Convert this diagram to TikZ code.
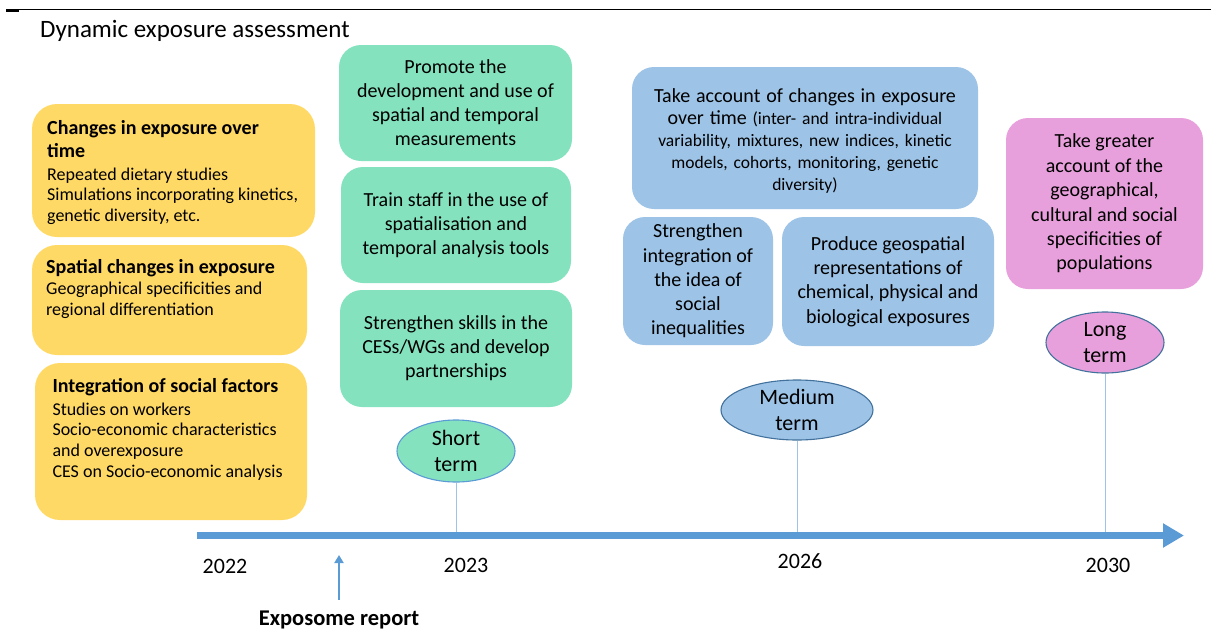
\documentclass[tikz,border=0pt]{standalone}
\usepackage{fontspec}
\setmainfont{Carlito}
\usetikzlibrary{shapes.geometric,arrows.meta}
\definecolor{yel}{HTML}{FFD966}
\definecolor{grn}{HTML}{85E2BF}
\definecolor{blu}{HTML}{9DC3E6}
\definecolor{pnk}{HTML}{E8A0DC}
\definecolor{axisblue}{HTML}{5B9BD5}
\definecolor{edgeA}{HTML}{5B9BD5}
\definecolor{edgeB}{HTML}{41719C}
\definecolor{ticklinec}{HTML}{9DC3E6}
\begin{document}
\begin{tikzpicture}[x=1pt,y=-1pt,
  panel/.style={rectangle,draw=none,inner sep=0pt,rounded corners=22pt},
  ybox/.style={panel,fill=yel,rounded corners=25pt},
  gbox/.style={panel,fill=grn,align=center,font=\fontsize{20}{24}\selectfont},
  bbox/.style={panel,fill=blu,align=center,font=\fontsize{20}{24.2}\selectfont},
  pbox/.style={panel,fill=pnk,align=center,font=\fontsize{20}{24.4}\selectfont},
  yhead/.style={anchor=north west,inner sep=0pt,align=left,font=\fontsize{20}{23}\selectfont\bfseries},
  ytext/.style={anchor=north west,inner sep=0pt,align=left,font=\fontsize{18}{20.8}\selectfont},
  term/.style={ellipse,inner sep=0pt,line width=1.1pt,align=center,font=\fontsize{22}{26.5}\selectfont},
  yearlabel/.style={inner sep=0pt,font=\fontsize{22}{26}\selectfont},
  tickline/.style={draw=ticklinec,line width=1pt},
  axisline/.style={draw=axisblue,line width=7pt,-{Triangle[length=21pt,width=23pt]}},
]
\useasboundingbox (0,0) rectangle (1211,630);

% top rule
\coordinate (r0) at (6,9.5);
\coordinate (r1) at (1211,9.5);
\coordinate (s0) at (6,10.5);
\coordinate (s1) at (19,10.5);
\draw[line width=1pt] (r0) -- (r1);
\draw[line width=2pt] (s0) -- (s1);

\node[anchor=base west,inner sep=0pt,font=\fontsize{25}{29}\selectfont] (title) at (40,37.7) {Dynamic exposure assessment};

% yellow boxes
\node[ybox,minimum width=283pt,minimum height=133pt] (y1) at (173.5,170.5) {};
\node[ybox,minimum width=275pt,minimum height=110pt] (y2) at (169.5,300) {};
\node[ybox,minimum width=272pt,minimum height=157pt] (y3) at (171,441.5) {};

\node[yhead] (y1h) at (47,120.2) {Changes in exposure over\\time};
\node[ytext] (y1t) at (47,167.3) {Repeated dietary studies\\Simulations incorporating kinetics,\\genetic diversity, etc.};
\node[yhead] (y2h) at (46,259.2) {Spatial changes in exposure};
\node[ytext] (y2t) at (46,281.6) {Geographical specificities and\\regional differentiation};
\node[yhead] (y3h) at (52.3,378.2) {Integration of social factors};
\node[ytext] (y3t) at (52.3,402.3) {Studies on workers\\Socio-economic characteristics\\and overexposure\\CES on Socio-economic analysis};

% green boxes
\node[gbox,minimum width=233pt,minimum height=116pt] (g1) at (455.5,103) {Promote the\\development and use of\\spatial and temporal\\measurements};
\node[gbox,minimum width=230pt,minimum height=116pt] (g2) at (456,225) {Train staff in the use of\\spatialisation and\\temporal analysis tools};
\node[gbox,minimum width=232pt,minimum height=117pt] (g3) at (456,348.5) {Strengthen skills in the\\CESs/WGs and develop\\partnerships};

% blue boxes
\node[panel,fill=blu,minimum width=346pt,minimum height=142pt] (b1) at (805,138) {};
\node[inner sep=0pt,text width=344pt,align=center,font=\fontsize{17.5}{22}\selectfont] (b1t) at (805,141) {{\fontsize{20}{22}\selectfont Take account of changes in exposure}\\{\fontsize{20}{22}\selectfont over time} (inter- and intra-individual\\variability, mixtures, new indices, kinetic\\models, cohorts, monitoring, genetic\\diversity)};
\node[bbox,minimum width=150pt,minimum height=128pt] (b2) at (698,281) {Strengthen\\integration of\\the idea of\\social\\inequalities};
\node[bbox,minimum width=212pt,minimum height=129pt] (b3) at (888,281.5) {Produce geospatial\\representations of\\chemical, physical and\\biological exposures};

% pink box
\node[pbox,minimum width=197pt,minimum height=171pt] (p1) at (1104.5,203.5) {Take greater\\account of the\\geographical,\\cultural and social\\specificities of\\populations};

% term ellipses
\node[term,draw=edgeA,fill=grn,minimum width=118pt,minimum height=62pt] (st) at (456,451) {Short\\term};
\node[term,draw=edgeB,fill=blu,minimum width=152pt,minimum height=60pt] (mt) at (797,410) {Medium\\term};
\node[term,draw=edgeB,fill=pnk,minimum width=118pt,minimum height=61pt] (lt) at (1105,342.5) {Long\\term};

% axis
\coordinate (ax0) at (197,535.5);
\coordinate (ax1) at (1184,535.5);
\draw[tickline] (st.south) -- (st.south |- ax0);
\draw[tickline] (mt.south) -- (mt.south |- ax0);
\draw[tickline] (lt.south) -- (lt.south |- ax0);
\draw[axisline] (ax0) -- (ax1);

\node[yearlabel] (yr22) at (225,566) {2022};
\node[yearlabel] (yr23) at (466,565) {2023};
\node[yearlabel] (yr26) at (800,561) {2026};
\node[yearlabel] (yr30) at (1108,565) {2030};

% exposome report
\coordinate (ex0) at (339,600);
\coordinate (ex1) at (339,555);
\draw[draw=axisblue,line width=2.3pt,-{Triangle[length=8pt,width=9pt]}] (ex0) -- (ex1);
\node[anchor=base,inner sep=0pt,font=\fontsize{22.5}{26}\selectfont\bfseries] (exr) at (339,625) {Exposome report};
\end{tikzpicture}
\end{document}
